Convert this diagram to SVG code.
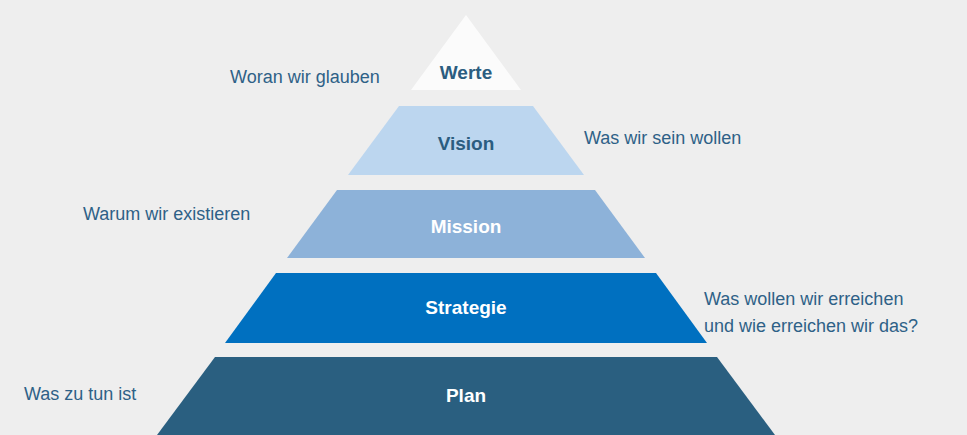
<svg xmlns="http://www.w3.org/2000/svg" width="967" height="435" viewBox="0 0 967 435">
<style>
.t{font-family:"Liberation Sans",Arial,sans-serif;font-size:19px;font-weight:bold;text-anchor:middle}
.l{font-family:"Liberation Sans",Arial,sans-serif;font-size:18px;fill:#2e6187}
</style>
<rect width="967" height="435" fill="#eeeeee"/>
<g id="werte"><polygon points="466,15 521,90 411,90" fill="#fbfbfb"/><text class="t" x="466" y="79" fill="#2b5d80">Werte</text></g>
<g id="vision"><polygon points="399,106 533,106 584,175 348,175" fill="#bcd6ef"/><text class="t" x="466" y="150" fill="#2b5d80">Vision</text></g>
<g id="mission"><polygon points="337,190 595,190 645,258 287,258" fill="#8db2d9"/><text class="t" x="466" y="233" fill="#ffffff">Mission</text></g>
<g id="strategie"><polygon points="276,273 656,273 707,343 225,343" fill="#0070c0"/><text class="t" x="466" y="314" fill="#ffffff">Strategie</text></g>
<g id="plan"><polygon points="215,357 717,357 775,435 157,435" fill="#2a5f80"/><text class="t" x="466" y="402" fill="#ffffff">Plan</text></g>
<g id="labels">
<text class="l" x="230" y="83">Woran wir glauben</text>
<text class="l" x="584" y="144">Was wir sein wollen</text>
<text class="l" x="83" y="220">Warum wir existieren</text>
<text class="l" x="704" y="305">Was wollen wir erreichen</text>
<text class="l" x="704" y="332">und wie erreichen wir das?</text>
<text class="l" x="24" y="400">Was zu tun ist</text>
</g>
<g id="connectors"/>
</svg>
